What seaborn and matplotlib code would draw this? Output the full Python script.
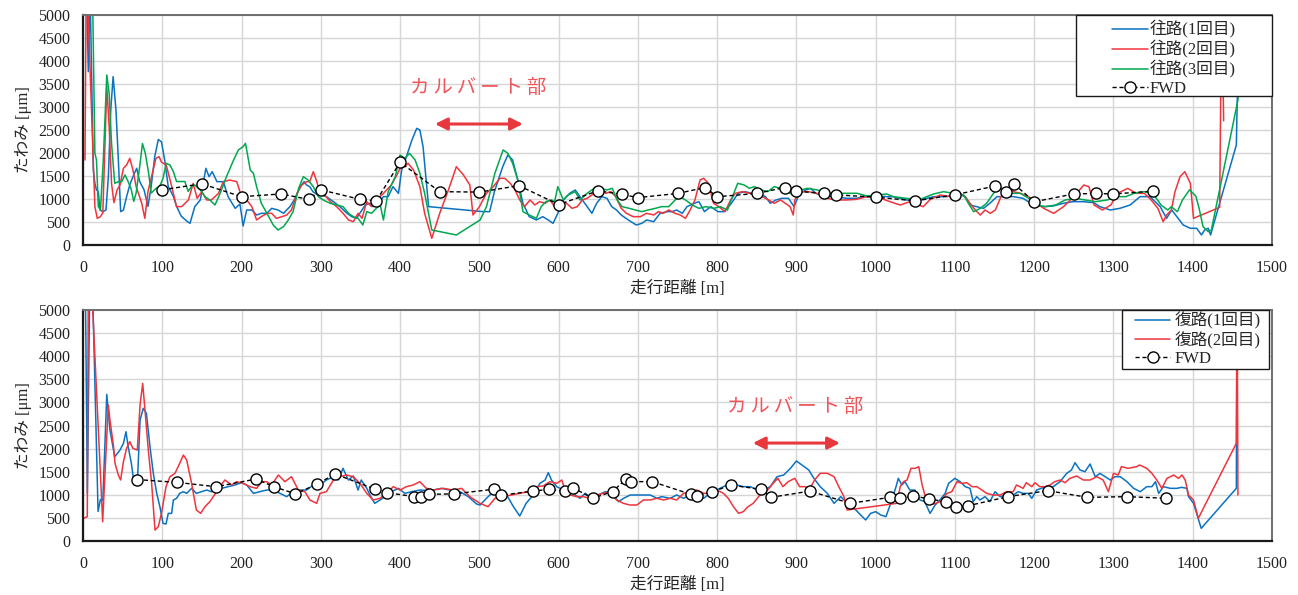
import matplotlib
matplotlib.use("Agg")
import matplotlib.pyplot as plt
from matplotlib.patches import Rectangle
import seaborn as sns
import pandas as pd

# ---------------- data ----------------
# 往路 (outbound) runs
out1_x = [2, 4.6, 6.7, 9, 13, 15, 17, 19.3, 21.4, 25, 29, 32, 35, 38, 41.6, 44.6, 47.5, 51, 55, 59, 63, 67.7, 71.5, 77, 82, 86, 90.5, 95, 99, 103, 107.5, 114, 118, 124, 131, 135, 141, 148, 155, 159, 163, 169, 177, 183, 192, 198, 202, 206.5, 213, 219, 225, 232, 238, 246, 253, 261, 267, 274, 279, 282, 286, 290, 296, 301, 307, 316, 324, 333, 339, 345, 352, 356, 362, 366, 373, 379, 385, 391, 398, 402, 408, 415, 421, 425, 429, 436, 505, 513, 519, 529.5, 536, 542, 548.5, 555, 563, 572, 580, 587, 593, 599, 606, 614, 621, 627, 636, 642, 648, 654.5, 661, 667, 673, 679, 688, 698, 705, 711, 720, 728, 737, 743, 749, 756, 762, 771, 777, 784, 792, 801, 809, 818, 826.5, 835, 844, 852, 861, 867, 874, 882, 890, 897, 903, 911.5, 918, 924.5, 937, 950, 963, 975.5, 988, 1001, 1014, 1022, 1039, 1056, 1073, 1090, 1102, 1113, 1119, 1127.5, 1136, 1144, 1153, 1161, 1174, 1186, 1199, 1211, 1224, 1236.7, 1249, 1262, 1275, 1283, 1296, 1308, 1321, 1333.5, 1346, 1359, 1367, 1373.5, 1380, 1388, 1397, 1405, 1411, 1415, 1419.5, 1422.5, 1455, 1459]
out1_y = [5500, 5500, 3768, 5500, 1631, 1341, 1196, 1160, 761, 725, 761, 1486, 2935, 3660, 2935, 1848, 725, 761, 1051, 1305, 1486, 1667, 1380, 1200, 841, 1273, 1920, 2294, 2243, 1848, 1273, 1057, 841, 625, 518, 471, 834, 979, 1667, 1486, 1594, 1377, 1377, 1051, 797, 891, 413, 761, 761, 652, 689, 689, 797, 761, 689, 834, 993, 1268, 1377, 1304, 1268, 1160, 1087, 1087, 1051, 942, 834, 689, 616, 580, 761, 870, 906, 834, 906, 1051, 1051, 1268, 1123, 1631, 1920, 2283, 2536, 2500, 2138, 834, 725, 725, 1160, 1703, 1957, 1848, 1413, 906, 616, 544, 616, 544, 471, 689, 978, 1123, 1196, 1051, 834, 689, 906, 1051, 1015, 834, 761, 652, 544, 435, 471, 544, 508, 689, 725, 725, 761, 689, 834, 906, 943, 725, 834, 725, 725, 906, 1123, 1160, 1123, 1123, 1051, 906, 978, 1015, 1015, 834, 1087, 1196, 1232, 1123, 1051, 1051, 1015, 1015, 1051, 1065, 1051, 1051, 978, 978, 1051, 1051, 1123, 1051, 869, 833, 797, 906, 1051, 1051, 1051, 1014, 869, 833, 848, 906, 942, 942, 920, 833, 761, 797, 869, 1051, 1051, 833, 580, 761, 616, 435, 363, 363, 218, 326, 363, 218, 2174, 5500]

out2_x = [2.5, 4, 5.5, 15, 18, 22, 25, 30, 33, 36, 39, 43, 46.7, 51, 55, 59, 63, 67, 74, 78, 82, 88.5, 92, 96, 99, 105, 112, 118, 124.5, 133, 139, 144, 150, 156, 162, 171, 177, 185, 194, 200, 206.5, 213, 219, 225, 232, 238, 244, 251, 257, 263, 270, 276, 282, 286, 290.5, 295, 299, 305, 312, 320, 328, 335, 341, 347, 352, 358, 364, 370, 377, 383, 389, 396, 400, 406, 410, 417, 425, 431, 440, 450, 461, 471, 480, 488, 492, 500, 509, 517.6, 526, 532, 539, 545, 551, 557, 564, 570, 576, 583, 589, 595, 602, 610, 617, 623.6, 630, 636, 645, 651, 659.6, 666, 672, 679, 685.6, 694, 703, 711, 720, 726, 732, 739, 747, 753.5, 760, 766, 772, 778.5, 783, 789, 795.5, 802, 810, 817, 823, 832, 840, 849, 857, 865, 872, 880, 886, 892, 896, 898, 904, 915, 925.5, 938, 951, 963.5, 976, 988.6, 1001, 1018, 1031, 1043, 1060, 1069, 1081.5, 1094, 1107, 1113, 1119, 1125.6, 1132, 1138, 1144.6, 1151, 1159, 1168, 1174, 1182.6, 1193, 1203.7, 1212, 1224.6, 1237, 1250, 1262.6, 1269, 1275.6, 1286, 1296.7, 1305, 1318, 1328.5, 1339, 1347.6, 1356, 1362.7, 1367, 1373, 1377.6, 1384, 1390, 1397, 1401, 1434, 1436.5, 1439]
out2_y = [1848, 5500, 5500, 834, 580, 616, 700, 3450, 2573, 1341, 921, 1196, 1305, 1667, 1739, 1884, 1632, 1273, 913, 580, 1165, 1632, 1884, 1920, 1800, 1739, 1268, 834, 834, 979, 1341, 1015, 1160, 979, 979, 1124, 1377, 1413, 1377, 1051, 979, 834, 544, 616, 689, 689, 580, 616, 652, 761, 1124, 1305, 1377, 1377, 1594, 1377, 1124, 1087, 942, 834, 689, 544, 507, 689, 580, 942, 834, 979, 1087, 1196, 1305, 1522, 1667, 1703, 1776, 1631, 1268, 689, 145, 689, 1196, 1703, 1522, 1305, 652, 830, 1124, 1269, 1450, 1450, 1341, 1196, 979, 834, 979, 870, 943, 906, 979, 834, 943, 906, 797, 834, 979, 1015, 1124, 1196, 1124, 1160, 1051, 797, 689, 616, 616, 689, 652, 725, 689, 761, 689, 652, 580, 761, 979, 1414, 1450, 1341, 906, 834, 725, 979, 1124, 1160, 1124, 1124, 1051, 979, 906, 979, 906, 834, 652, 979, 1160, 1160, 1124, 1015, 979, 979, 993, 1051, 1051, 942, 869, 942, 833, 993, 1087, 1051, 1123, 1051, 906, 761, 652, 761, 688, 761, 1087, 1232, 1159, 1123, 1051, 906, 797, 688, 833, 1051, 1304, 1268, 869, 761, 869, 1123, 1232, 1123, 1123, 978, 797, 507, 652, 761, 1159, 1485, 1594, 1341, 580, 819, 5500, 2700]

out3_x = [2, 12, 15, 17, 19.3, 22, 25.6, 30, 33, 36, 40, 44.6, 48.8, 53, 57, 61, 64, 67, 71.5, 75, 78.6, 82.8, 86, 92.5, 96.7, 101, 105, 109.6, 114, 118, 122, 128.5, 132.7, 137, 141, 148, 154, 160, 166.5, 173, 181, 190, 196, 202, 205, 211, 215, 219, 225, 232, 240, 246, 253, 259, 265, 272, 278, 284, 290.5, 297, 303, 312, 320, 328, 335, 341, 347, 353, 358, 364, 370, 375, 379, 385, 394, 400, 406, 412, 419, 425, 431, 440, 471, 501, 509, 519.6, 530, 536, 542, 548.5, 555, 563, 572, 578, 584, 591, 595, 599, 606, 612, 621, 627, 636, 645, 653, 661, 667.6, 674, 680, 689, 697, 705, 713, 722, 730, 739, 747, 753.5, 760, 768.6, 777, 785.6, 796, 804, 813, 821, 826, 834, 840.6, 847, 855.5, 864, 872, 880, 889, 899, 905.5, 914, 926.5, 939, 951, 964, 976.6, 989, 1001.5, 1014, 1022, 1039, 1056, 1073, 1085.6, 1098, 1111, 1117, 1123.6, 1132, 1140, 1148.6, 1155, 1163, 1172, 1182.6, 1193, 1203.7, 1214, 1227, 1239, 1252, 1264.7, 1277, 1292, 1303, 1315.6, 1326, 1339, 1349.7, 1360, 1368.5, 1373, 1380.6, 1387, 1396, 1404, 1408, 1413, 1419.5, 1423.5, 1457, 1463]
out3_y = [5500, 5500, 1993, 1848, 834, 761, 1848, 3696, 3297, 2210, 1341, 1377, 1377, 1522, 1377, 1200, 949, 1129, 1704, 2207, 1992, 1560, 1129, 1237, 1273, 1452, 1776, 1740, 1596, 1380, 1380, 1380, 1165, 1273, 1305, 1196, 1051, 979, 870, 1124, 1486, 1848, 2065, 2138, 2210, 1631, 1558, 1268, 906, 689, 435, 326, 399, 544, 725, 1232, 1486, 1413, 1268, 1051, 979, 906, 870, 834, 689, 616, 580, 435, 725, 689, 797, 870, 544, 1160, 1486, 1957, 1884, 1993, 1848, 1558, 1124, 326, 218, 544, 834, 1558, 2066, 1993, 1776, 1413, 725, 652, 580, 834, 943, 979, 943, 1269, 979, 1087, 1160, 979, 1124, 1232, 1232, 1196, 1232, 979, 834, 797, 761, 725, 761, 797, 834, 834, 979, 1051, 979, 870, 797, 834, 797, 834, 761, 1124, 1341, 1305, 1232, 1269, 1196, 1160, 1269, 1232, 1160, 1051, 1196, 1232, 1196, 1124, 1124, 1124, 1124, 1065, 1087, 1109, 1051, 1014, 993, 1109, 1159, 1123, 1087, 906, 724, 797, 906, 1123, 1268, 1196, 1123, 1123, 1014, 869, 833, 869, 978, 1014, 978, 942, 978, 1051, 1051, 1123, 1159, 1123, 869, 761, 833, 724, 978, 1200, 1060, 800, 399, 290, 326, 3150, 5500]

fwd_out_x = [100, 150, 200, 250, 285, 300, 350, 370, 400, 450, 500, 550, 600, 650, 680, 700, 750, 785, 800, 850, 885, 900, 935, 950, 1000, 1050, 1100, 1150, 1165, 1175, 1200, 1250, 1278, 1300, 1350]
fwd_out_y = [1200, 1330, 1050, 1110, 990, 1200, 990, 960, 1800, 1160, 1150, 1290, 880, 1180, 1100, 1030, 1120, 1250, 1050, 1120, 1250, 1170, 1120, 1090, 1040, 960, 1090, 1280, 1160, 1320, 940, 1110, 1120, 1110, 1170]

# 復路 (return) runs
ret1_x = [3, 5.5, 8.5, 12, 19, 22, 25, 30, 34, 40, 46.7, 51, 54.2, 57, 61, 64.7, 68.5, 72, 76, 80, 84.5, 88.7, 93, 97, 101, 104.7, 107.6, 111.8, 114, 118, 122, 126.6, 130.8, 137, 143, 149.7, 156, 162, 168.6, 175, 183, 191.7, 200, 206.5, 215, 223, 231.7, 240, 248.5, 257, 265, 273.7, 282, 290.6, 299, 307, 316, 322, 328, 334.7, 341, 347, 351, 358, 362, 368, 374.6, 381, 389, 398, 406, 414.6, 425, 437.7, 452, 463, 475.6, 486, 496.6, 501, 509, 517.6, 528, 534.5, 543, 551, 559, 568, 576.5, 583, 587, 591, 597.6, 606, 614.4, 620.8, 627, 633.5, 642, 650, 659, 667, 675.6, 682, 690.4, 698.8, 707, 715.6, 724, 730, 740.7, 749, 757.6, 766, 774.4, 783, 791, 799.6, 808, 816.5, 825, 833, 842, 850, 858.7, 867, 875.6, 884, 892.5, 900, 907, 915.6, 922, 930, 939, 947.5, 956, 964, 975, 981, 987.4, 993.7, 1000, 1006.4, 1013, 1019, 1025.7, 1028.6, 1033, 1037, 1043, 1049.6, 1056, 1062, 1068.6, 1075, 1081, 1087.6, 1092, 1100, 1106.6, 1113, 1119, 1123, 1127.6, 1131.6, 1138, 1144, 1150.6, 1157, 1165, 1173.5, 1179.8, 1186, 1192.5, 1197, 1203, 1209, 1215.6, 1224, 1232.6, 1241, 1247, 1251.5, 1257.8, 1264, 1270.5, 1277, 1283, 1289.4, 1296, 1302, 1308.6, 1317, 1325.4, 1333.8, 1342, 1348.5, 1353, 1357, 1363, 1371.6, 1380, 1386, 1392.6, 1394.7, 1401, 1410.7, 1455, 1456]
ret1_y = [5500, 1031, 5500, 5500, 640, 900, 880, 3174, 2402, 1825, 1969, 2114, 2366, 2041, 1681, 1212, 1212, 2619, 2871, 2763, 2041, 1464, 1031, 743, 382, 367, 598, 598, 887, 923, 1031, 1067, 1031, 1140, 1031, 1067, 1103, 1067, 1140, 1140, 1176, 1212, 1262, 1212, 1031, 1067, 1103, 1103, 1031, 960, 1067, 1103, 1103, 1212, 1212, 1320, 1392, 1320, 1573, 1320, 1407, 1103, 1320, 1140, 995, 815, 887, 960, 1067, 1140, 1031, 1067, 1103, 1089, 1140, 1103, 1067, 960, 800, 779, 924, 1068, 1068, 996, 743, 541, 815, 996, 1248, 1320, 1479, 1320, 1176, 1104, 1104, 996, 924, 1032, 924, 996, 1068, 1032, 852, 924, 996, 996, 996, 996, 924, 960, 924, 996, 924, 996, 996, 924, 1032, 1104, 1176, 1248, 1212, 1176, 1176, 1104, 1104, 1176, 1392, 1429, 1573, 1732, 1645, 1537, 1357, 1176, 1032, 815, 960, 815, 671, 563, 455, 599, 635, 563, 527, 815, 1176, 1356, 1212, 1284, 1103, 1103, 887, 851, 598, 779, 887, 1031, 1248, 1356, 1284, 1176, 1140, 851, 960, 887, 960, 851, 1067, 960, 995, 995, 1067, 1031, 1031, 923, 1103, 1140, 1176, 1176, 1284, 1464, 1537, 1695, 1537, 1500, 1666, 1392, 1464, 1392, 1320, 1392, 1392, 1284, 1140, 1067, 1176, 1176, 1284, 1031, 1176, 1140, 1140, 1161, 1140, 960, 815, 274, 1140, 5500]

ret2_x = [0.4, 5.4, 6.7, 10.9, 24.8, 31.9, 34, 38.3, 40.4, 44.6, 47.5, 51, 55, 59, 63, 68.5, 72, 75.3, 78.2, 82.4, 86.6, 90.8, 95, 99, 104.7, 109.7, 116, 122, 126.6, 130.8, 137, 143, 148.4, 153.9, 160, 164.4, 172.8, 179, 187.5, 194, 202, 210.7, 219, 225.4, 231.7, 238, 246.4, 254.8, 263, 271.6, 280, 286.3, 294.8, 299, 307, 316, 324, 332.6, 341, 349.4, 358, 366, 374.6, 383, 391.5, 400, 408, 416.7, 425, 433, 442, 454.5, 467, 477.6, 488, 500.8, 511, 519.7, 530, 540.8, 551, 561.6, 572, 580.6, 589, 597.6, 604, 608, 614.4, 623, 631, 639.6, 648, 656.4, 665, 673, 681.7, 690, 698.8, 707, 715.6, 724, 732.5, 741, 749, 757.6, 766, 774.4, 783, 791, 799.6, 808, 814, 820.6, 827, 833, 839, 845.5, 854, 862, 870.6, 876.6, 883, 889.6, 898, 904, 910.6, 917, 923, 930, 939, 947.5, 953.5, 960, 964, 1026.6, 1031, 1035, 1039.6, 1044.6, 1050, 1054.4, 1058.6, 1065, 1073, 1081.5, 1090, 1096, 1102.6, 1109, 1115, 1121.6, 1127.6, 1134, 1140, 1148.5, 1157, 1165, 1173.5, 1177.6, 1182, 1186, 1190, 1197, 1201, 1207, 1213.5, 1220, 1226, 1232.6, 1239, 1245, 1253.6, 1262, 1270.5, 1279, 1287, 1293.6, 1300, 1306, 1310, 1318.6, 1329, 1333, 1342, 1348.5, 1354.7, 1361, 1367.5, 1376, 1382, 1386.4, 1390.5, 1394.7, 1401, 1407, 1455, 1456, 1457]
ret2_y = [490, 526, 5500, 5500, 418, 2944, 2619, 2078, 1681, 1428, 1320, 1717, 2006, 2150, 2006, 1969, 2944, 3412, 2835, 1969, 1248, 238, 310, 598, 1176, 1392, 1464, 1681, 1861, 1753, 1248, 671, 598, 743, 851, 960, 1176, 1320, 1212, 1284, 1248, 1176, 1140, 1284, 1284, 1212, 1428, 1284, 1392, 1103, 1067, 887, 815, 1031, 1067, 1320, 1392, 1428, 1392, 1248, 1031, 887, 923, 1031, 1176, 1103, 1176, 1212, 1284, 1140, 1103, 1140, 1103, 1140, 960, 815, 743, 924, 960, 996, 1032, 1068, 1176, 1191, 1284, 1248, 1320, 1104, 996, 960, 960, 924, 996, 1032, 1068, 888, 815, 779, 779, 888, 888, 924, 888, 924, 888, 1032, 1068, 1104, 1032, 1032, 1104, 1032, 924, 743, 599, 635, 743, 815, 996, 1068, 1248, 1357, 1176, 1284, 1357, 1176, 1176, 1140, 1320, 1465, 1465, 1392, 1176, 960, 671, 815, 1176, 1284, 1320, 1573, 1573, 1609, 1212, 815, 800, 851, 1031, 1067, 1284, 1248, 1262, 1176, 1176, 1103, 1031, 995, 995, 1067, 1067, 1212, 1176, 1140, 1262, 1176, 1262, 1176, 1176, 1212, 1284, 1320, 1262, 1356, 1407, 1320, 1320, 1392, 1320, 1067, 1464, 1428, 1609, 1573, 1609, 1645, 1573, 1464, 1320, 1140, 1356, 1428, 1356, 1428, 1320, 995, 887, 491, 2114, 5500, 995]

fwd_ret_x = [68, 118, 168, 218, 241, 268, 295, 318, 368, 384, 418, 427, 437, 468, 518, 527, 568, 588, 608, 618, 643, 668, 685, 691, 718, 767, 775, 794, 817, 855, 868, 917, 968, 1018, 1031, 1047, 1067, 1089, 1101, 1117, 1167, 1217, 1267, 1317, 1366]
fwd_ret_y = [1330, 1270, 1175, 1340, 1175, 1020, 1230, 1450, 1125, 1045, 960, 950, 1010, 1020, 1120, 990, 1080, 1120, 1080, 1155, 925, 1070, 1340, 1285, 1285, 1010, 975, 1065, 1210, 1120, 945, 1080, 815, 945, 925, 980, 910, 850, 730, 765, 960, 1090, 945, 960, 925]

out_labels = ["往路(1回目)", "往路(2回目)", "往路(3回目)", "FWD"]
ret_labels = ["復路(1回目)", "復路(2回目)", "FWD"]
culvert_label = "カ\u2009ル\u2009バ\u2009ー\u2009ト\u2009部"
x_ticks = list(range(0, 1501, 100))
y_ticks = list(range(0, 5001, 500))
x_title = "走行距離 [m]"
y_title = "たわみ [μm]"

# ---------------- style ----------------
sns.set_style("white")
plt.rcParams['font.family'] = ['Liberation Serif', 'Noto Sans CJK JP']
plt.rcParams['axes.unicode_minus'] = False

BLUE = "#0a72c2"
RED = "#f0343c"
GREEN = "#00a84f"
ARROW = "#e8383d"
TEXTRED = "#f0555a"

W, H = 1298, 595
fig = plt.figure(figsize=(W / 100, H / 100), dpi=100)
ax1 = fig.add_axes([83 / W, 1 - 245 / H, (1272 - 83) / W, 230 / H])
ax2 = fig.add_axes([83 / W, 1 - 541 / H, (1272 - 83) / W, 231 / H])


def draw_series(ax, xs, ys, color, label):
    df = pd.DataFrame({"x": xs, "y": ys})
    sns.lineplot(data=df, x="x", y="y", sort=False, estimator=None,
                 color=color, lw=1.1, label=label, ax=ax)


def draw_fwd(ax, xs, ys, label):
    df = pd.DataFrame({"x": xs, "y": ys})
    sns.lineplot(data=df, x="x", y="y", sort=False, estimator=None,
                 color="black", lw=1.0, linestyle=(0, (3, 2)), marker="o",
                 markersize=8, markerfacecolor="white", markeredgecolor="black",
                 markeredgewidth=1.0, label=label, ax=ax)


draw_series(ax1, out1_x, out1_y, BLUE, out_labels[0])
draw_series(ax1, out2_x, out2_y, RED, out_labels[1])
draw_series(ax1, out3_x, out3_y, GREEN, out_labels[2])
draw_fwd(ax1, fwd_out_x, fwd_out_y, out_labels[3])

draw_series(ax2, ret1_x, ret1_y, BLUE, ret_labels[0])
draw_series(ax2, ret2_x, ret2_y, RED, ret_labels[1])
draw_fwd(ax2, fwd_ret_x, fwd_ret_y, ret_labels[2])

for ax in (ax1, ax2):
    ax.set_xlim(0, 1500)
    ax.set_ylim(0, 5000)
    ax.set_xticks(x_ticks)
    ax.set_yticks(y_ticks)
    ax.set_xticklabels([str(t) for t in x_ticks], fontsize=11.5)
    ax.set_yticklabels([str(t) for t in y_ticks], fontsize=11.5)
    ax.grid(True, color="#d6d6d6", lw=1.0)
    ax.set_axisbelow(True)
    ax.tick_params(axis="x", length=0, pad=10.5, colors="#222222")
    ax.tick_params(axis="y", length=0, pad=9, colors="#222222")
    ax.set_xlabel(x_title, fontsize=12, labelpad=4)
    ax.set_ylabel(y_title, fontsize=12, labelpad=5)
    for s in ("left", "bottom"):
        ax.spines[s].set_color("#1a1a1a")
        ax.spines[s].set_linewidth(1.6)
    for s in ("top", "right"):
        ax.spines[s].set_color("#6e6e6e")
        ax.spines[s].set_linewidth(1.4)


def boxed_legend(ax, box, anchor, handlelength, textpad):
    # box: (left, top, right, bottom) in pixels; anchor: (x, y) pixel of legend's upper-left
    l, t, r, b = box
    ax.add_patch(Rectangle((l / W, 1 - b / H), (r - l) / W, (b - t) / H,
                           transform=fig.transFigure, facecolor="white",
                           edgecolor="#1a1a1a", lw=1.0, zorder=4.5, clip_on=False))
    leg = ax.legend(loc="upper left", bbox_to_anchor=(anchor[0] / W, 1 - anchor[1] / H),
                    bbox_transform=fig.transFigure, fontsize=12, frameon=False,
                    borderpad=0, borderaxespad=0, labelspacing=0.13,
                    handlelength=handlelength, handletextpad=textpad)
    leg.set_zorder(5)


boxed_legend(ax1, (1076, 15, 1272, 96), (1112, 20.5), 2.15, 0.1)
boxed_legend(ax2, (1122, 310, 1269, 369), (1135, 312), 2.1, 0.3)

# カルバート部 annotations
ax1.text(499, 3413, culvert_label, color=TEXTRED, fontsize=14, ha="center", va="center")
ax1.annotate("", xy=(444, 2630), xytext=(555, 2630),
             arrowprops=dict(arrowstyle="<|-|>", color=ARROW, lw=2.2, mutation_scale=18,
                             shrinkA=0, shrinkB=0))
ax2.text(898, 2900, culvert_label, color=TEXTRED, fontsize=14, ha="center", va="center")
ax2.annotate("", xy=(845, 2120), xytext=(955, 2120),
             arrowprops=dict(arrowstyle="<|-|>", color=ARROW, lw=2.2, mutation_scale=18,
                             shrinkA=0, shrinkB=0))

fig.savefig("out.png", dpi=100)
